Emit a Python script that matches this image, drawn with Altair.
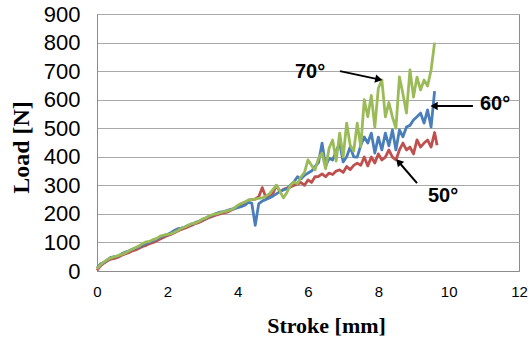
import altair as alt
import pandas as pd

# ---- data ----
stroke_mm = [0.0, 0.1, 0.2, 0.3, 0.4, 0.5, 0.6, 0.7, 0.8, 0.9,
             1.0, 1.1, 1.2, 1.3, 1.4, 1.5, 1.6, 1.7, 1.8, 1.9,
             2.0, 2.1, 2.2, 2.3, 2.4, 2.5, 2.6, 2.7, 2.8, 2.9,
             3.0, 3.1, 3.2, 3.3, 3.4, 3.5, 3.6, 3.7, 3.8, 3.9,
             4.0, 4.1, 4.2, 4.3, 4.4, 4.5, 4.6, 4.7, 4.8, 4.9,
             5.0, 5.1, 5.2, 5.3, 5.4, 5.5, 5.6, 5.7, 5.8, 5.9,
             6.0, 6.1, 6.2, 6.3, 6.4, 6.5, 6.6, 6.7, 6.8, 6.9,
             7.0, 7.1, 7.2, 7.3, 7.4, 7.5, 7.6, 7.7, 7.8, 7.9,
             8.0, 8.1, 8.2, 8.3, 8.4, 8.5, 8.6, 8.7, 8.8, 8.9,
             9.0, 9.1, 9.2, 9.3, 9.4, 9.5, 9.6]

load_50 = [2, 18, 28, 36, 42, 44, 48, 55, 60, 64,
           70, 74, 80, 86, 90, 96, 100, 106, 112, 118,
           124, 128, 134, 140, 146, 150, 155, 160, 166, 170,
           176, 182, 188, 192, 196, 200, 204, 206, 212, 218,
           226, 232, 236, 248, 250, 252, 260, 292, 258, 262,
           270, 300, 278, 286, 290, 294, 300, 304, 310, 300,
           319, 310, 330, 331, 340, 330, 343, 338, 350, 354,
           345, 366, 355, 370, 378, 370, 399, 368, 399, 378,
           410, 389, 399, 424, 399, 389, 424, 448, 424, 434,
           410, 459, 434, 448, 459, 434, 485]
tail_50_x = [9.67]
tail_50_y = [440]

load_60 = [10, 25, 30, 40, 48, 50, 52, 60, 66, 70,
           76, 80, 84, 92, 96, 102, 106, 112, 118, 124,
           128, 134, 142, 148, 150, 154, 160, 164, 170, 174,
           180, 186, 192, 196, 202, 206, 208, 212, 216, 218,
           222, 225, 230, 240, 238, 160, 236, 245, 250, 256,
           262, 270, 278, 284, 288, 300, 312, 330, 322, 335,
           343, 350, 366, 380, 448, 366, 395, 389, 420, 448,
           382, 400, 434, 400, 399, 440, 469, 448, 483, 413,
           469, 424, 483, 438, 494, 424, 494, 470, 504, 510,
           529, 540, 553, 518, 564, 504, 630]

load_70 = [8, 22, 32, 40, 46, 50, 54, 58, 63, 70,
           76, 82, 88, 96, 102, 104, 110, 114, 122, 126,
           128, 130, 136, 142, 150, 154, 160, 166, 168, 174,
           182, 186, 194, 198, 200, 204, 208, 210, 214, 220,
           230, 236, 242, 248, 250, 252, 254, 256, 262, 270,
           285, 300, 280, 256, 275, 300, 312, 306, 330, 345,
           389, 370, 354, 395, 413, 358, 430, 459, 385, 483,
           400, 518, 440, 420, 518, 435, 600, 540, 615, 504,
           640, 669, 540, 590, 540, 500, 680, 620, 553, 704,
           609, 679, 634, 669, 648, 704, 800]

# annotations: label, text position, arrow tail, arrow head
ann_label = ["70°", "60°", "50°"]
ann_text_x = [6.06, 11.32, 9.84]
ann_text_y = [697, 585, 263]
arrow_x = [6.91, 10.69, 9.10]
arrow_y = [700, 578, 308]
arrow_x2 = [7.98, 9.62, 8.60]
arrow_y2 = [672, 578, 379]
head_angle = [102, 270, 319]

# ---- tables ----
df50 = pd.DataFrame({"x": stroke_mm + tail_50_x, "y": load_50 + tail_50_y})
df60 = pd.DataFrame({"x": stroke_mm, "y": load_60})
df70 = pd.DataFrame({"x": stroke_mm, "y": load_70})
ann = pd.DataFrame({"label": ann_label, "tx": ann_text_x, "ty": ann_text_y,
                    "ax": arrow_x, "ay": arrow_y, "ax2": arrow_x2, "ay2": arrow_y2,
                    "ang": head_angle})

xs = alt.Scale(domain=[0, 12], nice=False, zero=False)
ys = alt.Scale(domain=[0, 900], nice=False)

x_axis = alt.Axis(values=[0, 2, 4, 6, 8, 10, 12], grid=False, tickSize=0,
                  labelFont="Liberation Sans", labelFontSize=15, labelColor="black",
                  labelPadding=13, labelFlush=False, labelOverlap=False,
                  domainColor="#8c8c8c",
                  title="Stroke [mm]", titleFont="Liberation Serif", titleFontSize=22,
                  titleFontWeight="bold", titleColor="black",
                  titleX=229, titleY=61, titleBaseline="alphabetic")
y_axis = alt.Axis(values=list(range(0, 901, 100)), grid=True, gridColor="#a8a8a8",
                  tickSize=0, labelFont="Liberation Sans", labelFontSize=22,
                  labelColor="black", labelPadding=17, labelFlush=False,
                  labelOverlap=False, domainColor="#8c8c8c",
                  title="Load [N]", titleFont="Liberation Serif", titleFontSize=24,
                  titleFontWeight="bold", titleColor="black",
                  titleX=-64, titleY=133)

X = lambda f: alt.X(f, type="quantitative", scale=xs, axis=x_axis)
Y = lambda f: alt.Y(f, type="quantitative", scale=ys, axis=y_axis)


def line(df, color):
    return alt.Chart(df).mark_line(color=color, strokeWidth=2.8, interpolate="linear",
                                   strokeJoin="round").encode(x=X("x"), y=Y("y"))


red = line(df50, "#c0504d")
blue = line(df60, "#4a7ebb")
green = line(df70, "#9bbb59")

base_ann = alt.Chart(ann)
texts = base_ann.mark_text(font="Liberation Sans", fontSize=20, fontWeight="bold",
                           color="black", align="center", baseline="middle").encode(
    x=X("tx"), y=Y("ty"), text="label:N")
shafts = base_ann.mark_rule(color="black", strokeWidth=2).encode(
    x=X("ax"), y=Y("ay"), x2="ax2:Q", y2="ay2:Q")
heads = base_ann.mark_point(shape="triangle", filled=True, color="black", size=70, opacity=1).encode(
    x=X("ax2"), y=Y("ay2"), angle=alt.Angle("ang:Q", scale=None))

chart = alt.layer(red, blue, green, shafts, heads, texts).properties(
    width=422, height=257,
    autosize=alt.AutoSizeParams(type="none"),
    padding={"left": 97, "top": 14, "right": 11, "bottom": 70},
    background="white",
).configure_view(stroke="#8c8c8c", strokeWidth=1)

chart.save("out.html", embed_options={"renderer": "svg", "actions": False})
